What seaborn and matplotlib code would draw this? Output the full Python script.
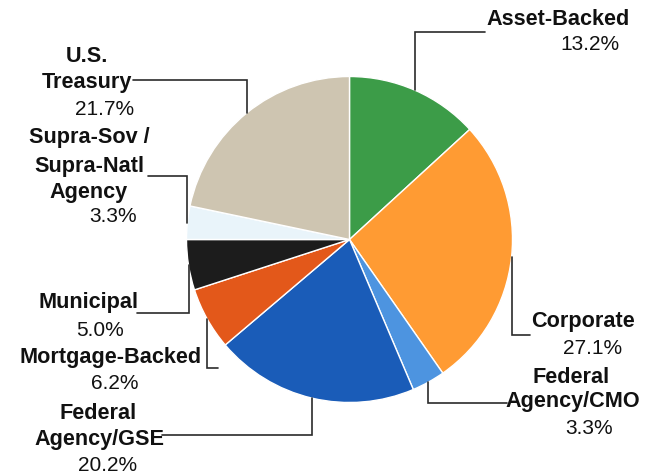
import matplotlib
matplotlib.use("Agg")
import matplotlib.pyplot as plt
import numpy as np
import seaborn as sns

# Portfolio allocation by sector (percent of total)
sectors = ["Asset-Backed", "Corporate", "Federal Agency/CMO", "Federal Agency/GSE",
           "Mortgage-Backed", "Municipal", "Supra-Sov / Supra-Natl Agency", "U.S. Treasury"]
shares = [13.2, 27.1, 3.3, 20.2, 6.2, 5.0, 3.3, 21.7]
sector_colors = ["#3C9C48", "#FF9B33", "#4D94E0", "#1A5CB8",
                 "#E3581A", "#1C1C1C", "#E9F4FA", "#CEC5B1"]

# How each sector name wraps onto lines
name_lines = [
    ["Asset-Backed"],
    ["Corporate"],
    ["Federal", "Agency/CMO"],
    ["Federal", "Agency/GSE"],
    ["Mortgage-Backed"],
    ["Municipal"],
    ["Supra-Sov /", "Supra-Natl", "Agency"],
    ["U.S.", "Treasury"],
]

sns.set_theme(style="white")
plt.rcParams["font.family"] = ["Liberation Sans", "DejaVu Sans"]

W, H = 658, 476
fig = plt.figure(figsize=(W / 100, H / 100), dpi=100)
ax = fig.add_axes([0, 0, 1, 1])


def ty(y):
    """Convert a distance from the top edge into axes y."""
    return H - y


cx, cy, R = 349.5, ty(239.5), 163
palette = sns.color_palette(sector_colors)
wedges, _ = ax.pie(shares, colors=palette, startangle=90, counterclock=False,
                   center=(cx, cy), radius=R,
                   wedgeprops=dict(edgecolor="white", linewidth=1.0))
ax.set_xlim(0, W)
ax.set_ylim(0, H)
ax.set_aspect("equal")
ax.axis("off")

# Label placement: (x centre, baseline from top) for each text line,
# the percentage line last; plus elbow y and leader end x.
label_layout = [
    dict(lines=[(558, 25)], pct=(590, 50), elbow=32, end=485),
    dict(lines=[(583, 327)], pct=(593, 354), elbow=335, end=530),
    dict(lines=[(571, 383), (573, 407)], pct=(589, 434), elbow=403, end=507),
    dict(lines=[(98, 419), (99, 445)], pct=(108, 471), elbow=435, end=162),
    dict(lines=[(111, 363)], pct=(115, 389), elbow=368, end=218),
    dict(lines=[(88, 308)], pct=(100, 336), elbow=313, end=137),
    dict(lines=[(89, 143), (89, 172), (89, 198)], pct=(113, 222), elbow=176, end=148),
    dict(lines=[(87, 62), (87, 88)], pct=(105, 115), elbow=80, end=133),
]

line_color = "#2b2b2b"
for wedge, names, share, lay in zip(wedges, name_lines, shares, label_layout):
    mid = np.deg2rad((wedge.theta1 + wedge.theta2) / 2)
    ax_x = cx + R * np.cos(mid)
    ax_y = cy + R * np.sin(mid)
    ey = ty(lay["elbow"])
    ax.plot([ax_x, ax_x, lay["end"]], [ax_y, ey, ey], color=line_color,
            linewidth=1.2, solid_joinstyle="miter", zorder=3)
    for text, (x, yb) in zip(names, lay["lines"]):
        ax.text(x, ty(yb), text, ha="center", va="baseline", fontsize=15.6,
                fontweight="bold", color="#111111")
    px, pyb = lay["pct"]
    ax.text(px, ty(pyb), f"{share:.1f}%", ha="center", va="baseline",
            fontsize=15, color="#111111")

fig.savefig("out.png", dpi=100, facecolor="white")
